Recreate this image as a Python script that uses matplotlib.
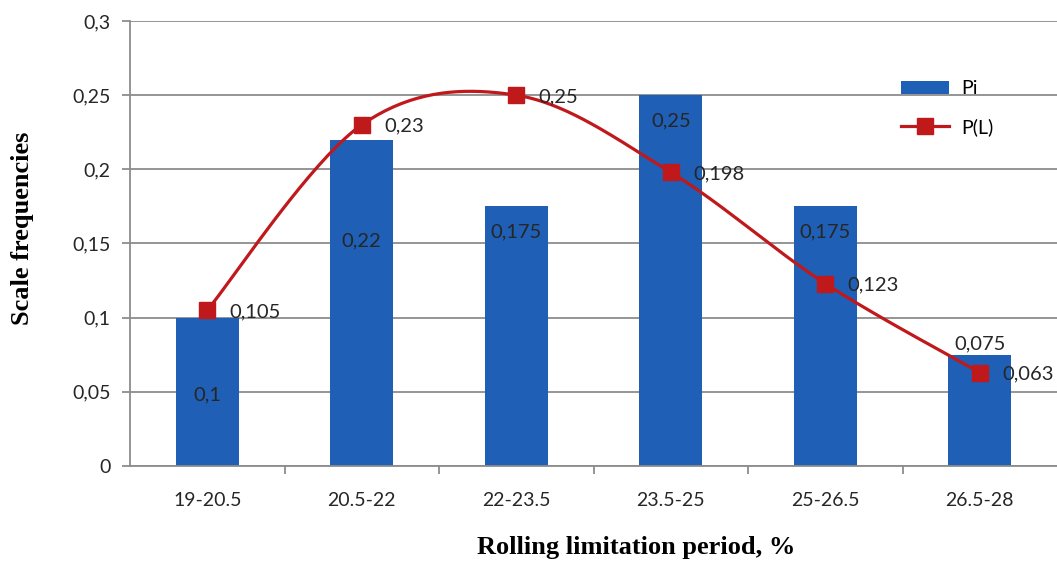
import numpy as np
import matplotlib.pyplot as plt
from matplotlib.ticker import FuncFormatter

# ----------------------------------------------------------------
# data
# ----------------------------------------------------------------
periods = ['19-20.5', '20.5-22', '22-23.5', '23.5-25', '25-26.5', '26.5-28']
pi_values = [0.1, 0.22, 0.175, 0.25, 0.175, 0.075]
pl_values = [0.105, 0.23, 0.25, 0.198, 0.123, 0.063]

# where the bar value labels sit (data y)
pi_label_y = [0.048, 0.152, 0.158, 0.233, 0.158, 0.082]

BLUE = '#1F5FB5'
RED = '#C0191C'
GRID = '#8C8C8C'
TEXT = '#262626'


def comma(v):
    return ('%g' % v).replace('.', ',')


# ----------------------------------------------------------------
# smoothed line through the points (cubic bezier segments)
# ----------------------------------------------------------------
def smooth(xs, ys, n=40):
    pts = np.column_stack([xs, ys]).astype(float)
    out = [pts[0]]
    for i in range(len(pts) - 1):
        p0 = pts[i - 1] if i > 0 else pts[i]
        p1 = pts[i]
        p2 = pts[i + 1]
        p3 = pts[i + 2] if i + 2 < len(pts) else pts[i + 1]
        c1 = p1 + (p2 - p0) / 6
        c2 = p2 - (p3 - p1) / 6
        t = np.linspace(0, 1, n)[1:, None]
        seg = ((1 - t) ** 3) * p1 + 3 * ((1 - t) ** 2) * t * c1 \
            + 3 * (1 - t) * t ** 2 * c2 + t ** 3 * p2
        out.extend(seg)
    out = np.array(out)
    return out[:, 0], out[:, 1]


plt.rcParams['font.family'] = ['Lato', 'DejaVu Sans']

fig = plt.figure(figsize=(10.57, 5.63), dpi=100)
ax = fig.add_axes([130 / 1057, 1 - 466 / 563, 927 / 1057, 445 / 563])

x = np.arange(len(periods))
ax.bar(x, pi_values, width=0.41, color=BLUE, label='Pi', zorder=2)

sx, sy = smooth(x, pl_values)
ax.plot(sx, sy, color=RED, lw=2.3, zorder=3, solid_capstyle='round')
ax.plot(x, pl_values, ls='none', marker='s', ms=11, color=RED, zorder=4)
# legend entry for the line
ax.plot([], [], color=RED, lw=2.3, marker='s', ms=11, label='P(L)')

for xi, v, ly in zip(x, pi_values, pi_label_y):
    ax.text(xi, ly, comma(v), ha='center', va='center', fontsize=14.5, color=TEXT, zorder=5)

for xi, v in zip(x, pl_values):
    ax.annotate(comma(v), (xi, v), xytext=(16, -1), textcoords='offset points',
                ha='left', va='center', fontsize=14.5, color=TEXT, zorder=5)

ax.set_xlim(-0.5, len(periods) - 0.5)
ax.set_ylim(0, 0.3)
ax.set_yticks(np.arange(0, 0.301, 0.05))
ax.yaxis.set_major_formatter(FuncFormatter(lambda v, p: comma(round(v, 2))))
ax.grid(axis='y', color=GRID, lw=1.3, zorder=0)
ax.set_axisbelow(True)

ax.set_xticks(x)
ax.set_xticklabels(periods)
ax.set_xticks(np.arange(0.5, len(periods) - 0.5), minor=True)
ax.tick_params(axis='x', which='major', length=0, pad=19, labelsize=14, labelcolor=TEXT)
ax.tick_params(axis='x', which='minor', length=6, width=1.3, color=GRID)
ax.tick_params(axis='y', length=6, width=1.3, color=GRID, labelsize=14, labelcolor=TEXT, pad=8)

for side in ['top', 'right']:
    ax.spines[side].set_visible(False)
for side in ['left', 'bottom']:
    ax.spines[side].set_color(GRID)
    ax.spines[side].set_linewidth(1.3)

ax.set_xlabel('Rolling limitation period, %', family='Liberation Serif', fontweight='bold',
              fontsize=19, va='center')
ax.xaxis.set_label_coords(0.546, -0.184)
ax.set_ylabel('Scale frequencies', family='Liberation Serif', fontweight='bold',
              fontsize=19, va='center')
ax.yaxis.set_label_coords(-0.1165, 0.535)

handles, labels = ax.get_legend_handles_labels()
order = [labels.index('Pi'), labels.index('P(L)')]
ax.legend([handles[i] for i in order], [labels[i] for i in order],
          loc='upper left', bbox_to_anchor=(883 / 1057, 1 - 63 / 563),
          bbox_transform=fig.transFigure, frameon=False, fontsize=14,
          handlelength=2.5, handleheight=0.6, labelspacing=1.05, handletextpad=0.6)

fig.savefig('out.png', dpi=100)
